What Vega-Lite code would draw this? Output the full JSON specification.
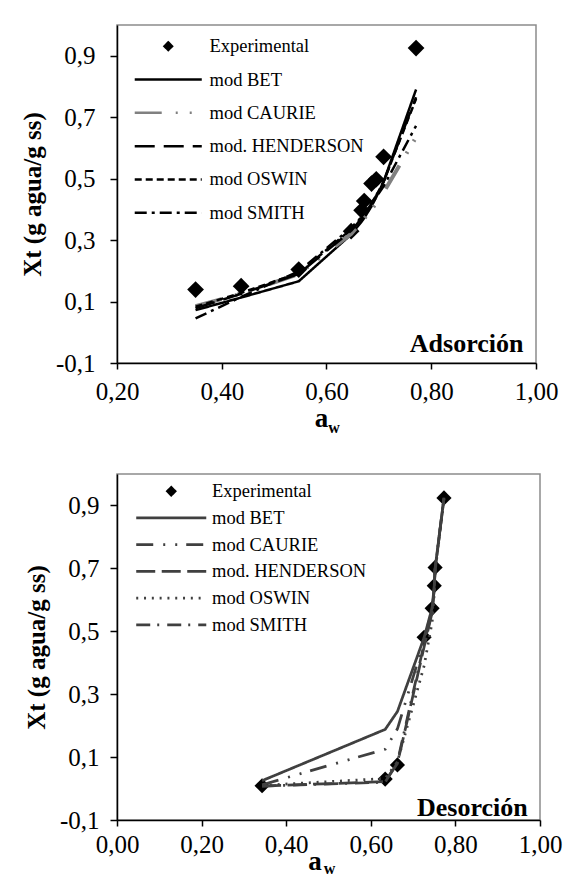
{
  "$schema": "https://vega.github.io/schema/vega-lite/v6.json",
  "padding": {"left": 19, "top": 24, "right": 5, "bottom": 0},
  "spacing": 37,
  "resolve": {
    "scale": {"color": "independent", "shape": "independent", "strokeDash": "independent"},
    "legend": {"color": "independent", "shape": "independent", "strokeDash": "independent"}
  },
  "config": {
    "locale": {"number": {"decimal": ",", "thousands": ".", "grouping": [3], "currency": ["", " €"], "minus": "-"}},
    "font": "Liberation Serif",
    "view": {"stroke": "#8c8c8c", "strokeWidth": 1.5},
    "axis": {
      "grid": false,
      "domainColor": "black",
      "domainWidth": 1.5,
      "tickColor": "black",
      "tickWidth": 1.5,
      "tickSize": 6,
      "labelFont": "Liberation Serif",
      "labelFontSize": 25,
      "labelColor": "black",
      "labelFlush": false,
      "labelOverlap": false,
      "titleFont": "Liberation Serif",
      "titleColor": "black"
    }
  },
  "datasets": {
    "ads_exp": [
      {"aw": 0.350, "xt": 0.139, "series": "Experimental"},
      {"aw": 0.437, "xt": 0.150, "series": "Experimental"},
      {"aw": 0.547, "xt": 0.204, "series": "Experimental"},
      {"aw": 0.647, "xt": 0.329, "series": "Experimental"},
      {"aw": 0.667, "xt": 0.397, "series": "Experimental"},
      {"aw": 0.672, "xt": 0.427, "series": "Experimental"},
      {"aw": 0.686, "xt": 0.484, "series": "Experimental"},
      {"aw": 0.695, "xt": 0.498, "series": "Experimental"},
      {"aw": 0.709, "xt": 0.571, "series": "Experimental"},
      {"aw": 0.771, "xt": 0.925, "series": "Experimental"}
    ],
    "ads_mod": [
      {"aw": 0.350, "xt": 0.072, "series": "mod BET"},
      {"aw": 0.437, "xt": 0.113, "series": "mod BET"},
      {"aw": 0.547, "xt": 0.166, "series": "mod BET"},
      {"aw": 0.647, "xt": 0.318, "series": "mod BET"},
      {"aw": 0.667, "xt": 0.360, "series": "mod BET"},
      {"aw": 0.672, "xt": 0.372, "series": "mod BET"},
      {"aw": 0.686, "xt": 0.410, "series": "mod BET"},
      {"aw": 0.695, "xt": 0.440, "series": "mod BET"},
      {"aw": 0.709, "xt": 0.490, "series": "mod BET"},
      {"aw": 0.771, "xt": 0.790, "series": "mod BET"},
      {"aw": 0.350, "xt": 0.085, "series": "mod CAURIE"},
      {"aw": 0.437, "xt": 0.125, "series": "mod CAURIE"},
      {"aw": 0.547, "xt": 0.190, "series": "mod CAURIE"},
      {"aw": 0.647, "xt": 0.320, "series": "mod CAURIE"},
      {"aw": 0.667, "xt": 0.360, "series": "mod CAURIE"},
      {"aw": 0.672, "xt": 0.370, "series": "mod CAURIE"},
      {"aw": 0.686, "xt": 0.400, "series": "mod CAURIE"},
      {"aw": 0.695, "xt": 0.420, "series": "mod CAURIE"},
      {"aw": 0.709, "xt": 0.455, "series": "mod CAURIE"},
      {"aw": 0.771, "xt": 0.635, "series": "mod CAURIE"},
      {"aw": 0.350, "xt": 0.078, "series": "mod. HENDERSON"},
      {"aw": 0.437, "xt": 0.125, "series": "mod. HENDERSON"},
      {"aw": 0.547, "xt": 0.190, "series": "mod. HENDERSON"},
      {"aw": 0.647, "xt": 0.330, "series": "mod. HENDERSON"},
      {"aw": 0.667, "xt": 0.370, "series": "mod. HENDERSON"},
      {"aw": 0.672, "xt": 0.380, "series": "mod. HENDERSON"},
      {"aw": 0.686, "xt": 0.420, "series": "mod. HENDERSON"},
      {"aw": 0.695, "xt": 0.445, "series": "mod. HENDERSON"},
      {"aw": 0.709, "xt": 0.490, "series": "mod. HENDERSON"},
      {"aw": 0.771, "xt": 0.765, "series": "mod. HENDERSON"},
      {"aw": 0.350, "xt": 0.083, "series": "mod OSWIN"},
      {"aw": 0.437, "xt": 0.128, "series": "mod OSWIN"},
      {"aw": 0.547, "xt": 0.193, "series": "mod OSWIN"},
      {"aw": 0.647, "xt": 0.335, "series": "mod OSWIN"},
      {"aw": 0.667, "xt": 0.372, "series": "mod OSWIN"},
      {"aw": 0.672, "xt": 0.383, "series": "mod OSWIN"},
      {"aw": 0.686, "xt": 0.420, "series": "mod OSWIN"},
      {"aw": 0.695, "xt": 0.445, "series": "mod OSWIN"},
      {"aw": 0.709, "xt": 0.490, "series": "mod OSWIN"},
      {"aw": 0.771, "xt": 0.760, "series": "mod OSWIN"},
      {"aw": 0.350, "xt": 0.045, "series": "mod SMITH"},
      {"aw": 0.437, "xt": 0.115, "series": "mod SMITH"},
      {"aw": 0.547, "xt": 0.198, "series": "mod SMITH"},
      {"aw": 0.647, "xt": 0.340, "series": "mod SMITH"},
      {"aw": 0.667, "xt": 0.375, "series": "mod SMITH"},
      {"aw": 0.672, "xt": 0.385, "series": "mod SMITH"},
      {"aw": 0.686, "xt": 0.415, "series": "mod SMITH"},
      {"aw": 0.695, "xt": 0.440, "series": "mod SMITH"},
      {"aw": 0.709, "xt": 0.475, "series": "mod SMITH"},
      {"aw": 0.771, "xt": 0.672, "series": "mod SMITH"}
    ],
    "des_exp": [
      {"aw": 0.343, "xt": 0.009, "series": "Experimental"},
      {"aw": 0.634, "xt": 0.030, "series": "Experimental"},
      {"aw": 0.663, "xt": 0.075, "series": "Experimental"},
      {"aw": 0.726, "xt": 0.481, "series": "Experimental"},
      {"aw": 0.745, "xt": 0.573, "series": "Experimental"},
      {"aw": 0.750, "xt": 0.645, "series": "Experimental"},
      {"aw": 0.752, "xt": 0.703, "series": "Experimental"},
      {"aw": 0.773, "xt": 0.924, "series": "Experimental"}
    ],
    "des_mod": [
      {"aw": 0.343, "xt": 0.025, "series": "mod BET"},
      {"aw": 0.634, "xt": 0.188, "series": "mod BET"},
      {"aw": 0.663, "xt": 0.245, "series": "mod BET"},
      {"aw": 0.726, "xt": 0.480, "series": "mod BET"},
      {"aw": 0.745, "xt": 0.575, "series": "mod BET"},
      {"aw": 0.750, "xt": 0.645, "series": "mod BET"},
      {"aw": 0.752, "xt": 0.700, "series": "mod BET"},
      {"aw": 0.773, "xt": 0.925, "series": "mod BET"},
      {"aw": 0.343, "xt": 0.012, "series": "mod CAURIE"},
      {"aw": 0.634, "xt": 0.125, "series": "mod CAURIE"},
      {"aw": 0.663, "xt": 0.190, "series": "mod CAURIE"},
      {"aw": 0.726, "xt": 0.470, "series": "mod CAURIE"},
      {"aw": 0.745, "xt": 0.570, "series": "mod CAURIE"},
      {"aw": 0.750, "xt": 0.640, "series": "mod CAURIE"},
      {"aw": 0.752, "xt": 0.700, "series": "mod CAURIE"},
      {"aw": 0.773, "xt": 0.924, "series": "mod CAURIE"},
      {"aw": 0.343, "xt": 0.008, "series": "mod. HENDERSON"},
      {"aw": 0.634, "xt": 0.022, "series": "mod. HENDERSON"},
      {"aw": 0.663, "xt": 0.080, "series": "mod. HENDERSON"},
      {"aw": 0.726, "xt": 0.450, "series": "mod. HENDERSON"},
      {"aw": 0.745, "xt": 0.560, "series": "mod. HENDERSON"},
      {"aw": 0.750, "xt": 0.635, "series": "mod. HENDERSON"},
      {"aw": 0.752, "xt": 0.695, "series": "mod. HENDERSON"},
      {"aw": 0.773, "xt": 0.922, "series": "mod. HENDERSON"},
      {"aw": 0.343, "xt": 0.010, "series": "mod OSWIN"},
      {"aw": 0.634, "xt": 0.032, "series": "mod OSWIN"},
      {"aw": 0.663, "xt": 0.085, "series": "mod OSWIN"},
      {"aw": 0.726, "xt": 0.390, "series": "mod OSWIN"},
      {"aw": 0.745, "xt": 0.530, "series": "mod OSWIN"},
      {"aw": 0.750, "xt": 0.620, "series": "mod OSWIN"},
      {"aw": 0.752, "xt": 0.690, "series": "mod OSWIN"},
      {"aw": 0.773, "xt": 0.920, "series": "mod OSWIN"},
      {"aw": 0.343, "xt": 0.008, "series": "mod SMITH"},
      {"aw": 0.634, "xt": 0.020, "series": "mod SMITH"},
      {"aw": 0.663, "xt": 0.085, "series": "mod SMITH"},
      {"aw": 0.726, "xt": 0.460, "series": "mod SMITH"},
      {"aw": 0.745, "xt": 0.565, "series": "mod SMITH"},
      {"aw": 0.750, "xt": 0.637, "series": "mod SMITH"},
      {"aw": 0.752, "xt": 0.697, "series": "mod SMITH"},
      {"aw": 0.773, "xt": 0.922, "series": "mod SMITH"}
    ]
  },
  "vconcat": [
    {
      "width": 419,
      "height": 338,
      "resolve": {"axis": {"x": "independent"}},
      "layer": [
        {
          "data": {"name": "ads_exp"},
          "mark": {"type": "point", "filled": true, "size": 280, "opacity": 1, "strokeWidth": 0},
          "encoding": {
            "x": {"field": "aw", "type": "quantitative", "scale": {"domain": [0.2, 1.0], "nice": false, "zero": false},
                  "axis": {"orient": "bottom", "title": "w", "titleFontSize": 16, "titleFontWeight": "bold", "titleX": 216.5, "titleY": 69, "titleBaseline": "alphabetic", "titleAlign": "center", "labels": false, "ticks": false, "domain": false}},
            "y": {"field": "xt", "type": "quantitative", "scale": {"domain": [-0.1, 1.0], "nice": false, "zero": false},
                  "axis": {"values": [-0.1, 0.1, 0.3, 0.5, 0.7, 0.9], "format": ".1f", "labelPadding": 15, "tickSize": 7, "title": "Xt (g agua/g ss)", "titleFontSize": 25, "titleFontWeight": "bold", "titlePadding": 10}},
            "shape": {"field": "series", "type": "nominal",
              "scale": {"domain": ["Experimental", "mod BET", "mod CAURIE", "mod. HENDERSON", "mod OSWIN", "mod SMITH"],
                        "range": ["diamond", "M-8.96,0H8.96", "M-8.96,0H8.96", "M-8.96,0H8.96", "M-8.96,0H8.96", "M-8.96,0H8.96"]},
              "legend": {"title": null, "orient": "none", "legendX": 42, "legendY": 12, "padding": 0, "labelFont": "Liberation Serif", "labelFontSize": 18.5, "labelColor": "black", "labelLimit": 400, "labelOffset": 32, "rowPadding": 14.3, "symbolSize": 56, "symbolStrokeWidth": 2.5, "symbolFillColor": "black"}},
            "color": {"field": "series", "type": "nominal",
              "scale": {"domain": ["Experimental", "mod BET", "mod CAURIE", "mod. HENDERSON", "mod OSWIN", "mod SMITH"],
                        "range": ["black", "black", "#808080", "black", "black", "black"]},
              "legend": {"title": null, "orient": "none", "legendX": 42, "legendY": 12, "padding": 0, "labelFont": "Liberation Serif", "labelFontSize": 18.5, "labelColor": "black", "labelLimit": 400, "labelOffset": 32, "rowPadding": 14.3, "symbolSize": 56, "symbolStrokeWidth": 2.5, "symbolFillColor": "black"}}
          }
        },
        {
          "data": {"name": "ads_mod"},
          "mark": {"type": "line", "strokeCap": "butt", "strokeJoin": "round"},
          "encoding": {
            "x": {"field": "aw", "type": "quantitative",
                  "axis": {"orient": "bottom", "values": [0.2, 0.4, 0.6, 0.8, 1.0], "format": ".2f", "labelPadding": 10, "title": "a", "titleFontSize": 27, "titleFontWeight": "bold", "titleX": 204, "titleY": 63, "titleBaseline": "alphabetic", "titleAlign": "center"}},
            "y": {"field": "xt", "type": "quantitative",
                  "axis": {"values": [-0.1, 0.1, 0.3, 0.5, 0.7, 0.9], "format": ".1f", "labelPadding": 15, "tickSize": 7, "title": "Xt (g agua/g ss)", "titleFontSize": 25, "titleFontWeight": "bold", "titlePadding": 10}},
            "color": {"field": "series", "type": "nominal",
              "scale": {"domain": ["Experimental", "mod BET", "mod CAURIE", "mod. HENDERSON", "mod OSWIN", "mod SMITH"],
                        "range": ["black", "black", "#808080", "black", "black", "black"]},
              "legend": {"title": null, "orient": "none", "legendX": 42, "legendY": 12, "padding": 0, "labelFont": "Liberation Serif", "labelFontSize": 18.5, "labelColor": "black", "labelLimit": 400, "labelOffset": 32, "rowPadding": 14.3, "symbolSize": 56, "symbolStrokeWidth": 2.5, "symbolFillColor": "black"}},
            "strokeDash": {"field": "series", "type": "nominal",
              "scale": {"domain": ["Experimental", "mod BET", "mod CAURIE", "mod. HENDERSON", "mod OSWIN", "mod SMITH"],
                        "range": [[1, 0], [1, 0], [27, 14, 2, 12, 2, 20], [20, 9], [7, 4], [12, 5, 3, 5]]},
              "legend": {"title": null, "orient": "none", "legendX": 42, "legendY": 12, "padding": 0, "labelFont": "Liberation Serif", "labelFontSize": 18.5, "labelColor": "black", "labelLimit": 400, "labelOffset": 32, "rowPadding": 14.3, "symbolSize": 56, "symbolStrokeWidth": 2.5, "symbolFillColor": "black"}},
            "strokeWidth": {"condition": {"test": "datum.series === 'mod CAURIE'", "value": 4}, "value": 2.5}
          }
        },
        {
          "data": {"values": [{"label": "Adsorción"}]},
          "mark": {"type": "text", "align": "right", "baseline": "alphabetic", "font": "Liberation Serif", "fontSize": 26, "fontWeight": "bold", "color": "black"},
          "encoding": {
            "x": {"datum": 0.976, "type": "quantitative", "axis": null},
            "y": {"datum": -0.065, "type": "quantitative",
                  "axis": {"values": [-0.1, 0.1, 0.3, 0.5, 0.7, 0.9], "format": ".1f", "labelPadding": 15, "tickSize": 7, "title": "Xt (g agua/g ss)", "titleFontSize": 25, "titleFontWeight": "bold", "titlePadding": 10}},
            "text": {"field": "label", "type": "nominal"}
          }
        }
      ]
    },
    {
      "width": 423,
      "height": 346,
      "resolve": {"axis": {"x": "independent"}},
      "layer": [
        {
          "data": {"name": "des_exp"},
          "mark": {"type": "point", "filled": true, "size": 230, "opacity": 1, "strokeWidth": 0},
          "encoding": {
            "x": {"field": "aw", "type": "quantitative", "scale": {"domain": [0, 1.0], "nice": false, "zero": false},
                  "axis": {"orient": "bottom", "title": "w", "titleFontSize": 16, "titleFontWeight": "bold", "titleX": 212, "titleY": 53, "titleBaseline": "alphabetic", "titleAlign": "center", "labels": false, "ticks": false, "domain": false}},
            "y": {"field": "xt", "type": "quantitative", "scale": {"domain": [-0.1, 1.0], "nice": false, "zero": false},
                  "axis": {"values": [-0.1, 0.1, 0.3, 0.5, 0.7, 0.9], "format": ".1f", "labelPadding": 11, "tickSize": 7, "title": "Xt (g agua/g ss)", "titleFontSize": 25, "titleFontWeight": "bold", "titlePadding": 10}},
            "shape": {"field": "series", "type": "nominal",
              "scale": {"domain": ["Experimental", "mod BET", "mod CAURIE", "mod. HENDERSON", "mod OSWIN", "mod SMITH"],
                        "range": ["diamond", "M-9.36,0H9.36", "M-9.36,0H9.36", "M-9.36,0H9.36", "M-9.36,0H9.36", "M-9.36,0H9.36"]},
              "legend": {"title": null, "orient": "none", "legendX": 45, "legendY": 8, "padding": 0, "labelFont": "Liberation Serif", "labelFontSize": 18.5, "labelColor": "black", "labelLimit": 400, "labelOffset": 31.5, "rowPadding": 7.7, "symbolSize": 56, "symbolStrokeWidth": 2.75, "symbolFillColor": "black"}},
            "color": {"field": "series", "type": "nominal",
              "scale": {"domain": ["Experimental", "mod BET", "mod CAURIE", "mod. HENDERSON", "mod OSWIN", "mod SMITH"],
                        "range": ["black", "#404040", "#404040", "#404040", "#404040", "#404040"]},
              "legend": {"title": null, "orient": "none", "legendX": 45, "legendY": 8, "padding": 0, "labelFont": "Liberation Serif", "labelFontSize": 18.5, "labelColor": "black", "labelLimit": 400, "labelOffset": 31.5, "rowPadding": 7.7, "symbolSize": 56, "symbolStrokeWidth": 2.75, "symbolFillColor": "black"}}
          }
        },
        {
          "data": {"name": "des_mod"},
          "mark": {"type": "line", "strokeCap": "butt", "strokeJoin": "round", "strokeWidth": 2.75},
          "encoding": {
            "x": {"field": "aw", "type": "quantitative",
                  "axis": {"orient": "bottom", "values": [0, 0.2, 0.4, 0.6, 0.8, 1.0], "format": ".2f", "labelPadding": 6, "title": "a", "titleFontSize": 27, "titleFontWeight": "bold", "titleX": 197.5, "titleY": 49, "titleBaseline": "alphabetic", "titleAlign": "center"}},
            "y": {"field": "xt", "type": "quantitative",
                  "axis": {"values": [-0.1, 0.1, 0.3, 0.5, 0.7, 0.9], "format": ".1f", "labelPadding": 11, "tickSize": 7, "title": "Xt (g agua/g ss)", "titleFontSize": 25, "titleFontWeight": "bold", "titlePadding": 10}},
            "color": {"field": "series", "type": "nominal",
              "scale": {"domain": ["Experimental", "mod BET", "mod CAURIE", "mod. HENDERSON", "mod OSWIN", "mod SMITH"],
                        "range": ["black", "#404040", "#404040", "#404040", "#404040", "#404040"]},
              "legend": {"title": null, "orient": "none", "legendX": 45, "legendY": 8, "padding": 0, "labelFont": "Liberation Serif", "labelFontSize": 18.5, "labelColor": "black", "labelLimit": 400, "labelOffset": 31.5, "rowPadding": 7.7, "symbolSize": 56, "symbolStrokeWidth": 2.75, "symbolFillColor": "black"}},
            "strokeDash": {"field": "series", "type": "nominal",
              "scale": {"domain": ["Experimental", "mod BET", "mod CAURIE", "mod. HENDERSON", "mod OSWIN", "mod SMITH"],
                        "range": [[1, 0], [1, 0], [17, 10, 2, 10, 2, 9], [19, 6.5], [2, 5.8], [14, 7, 2, 8]]},
              "legend": {"title": null, "orient": "none", "legendX": 45, "legendY": 8, "padding": 0, "labelFont": "Liberation Serif", "labelFontSize": 18.5, "labelColor": "black", "labelLimit": 400, "labelOffset": 31.5, "rowPadding": 7.7, "symbolSize": 56, "symbolStrokeWidth": 2.75, "symbolFillColor": "black"}}
          }
        },
        {
          "data": {"values": [{"label": "Desorción"}]},
          "mark": {"type": "text", "align": "right", "baseline": "alphabetic", "font": "Liberation Serif", "fontSize": 26, "fontWeight": "bold", "color": "black"},
          "encoding": {
            "x": {"datum": 0.971, "type": "quantitative", "axis": null},
            "y": {"datum": -0.086, "type": "quantitative",
                  "axis": {"values": [-0.1, 0.1, 0.3, 0.5, 0.7, 0.9], "format": ".1f", "labelPadding": 11, "tickSize": 7, "title": "Xt (g agua/g ss)", "titleFontSize": 25, "titleFontWeight": "bold", "titlePadding": 10}},
            "text": {"field": "label", "type": "nominal"}
          }
        }
      ]
    }
  ]
}
